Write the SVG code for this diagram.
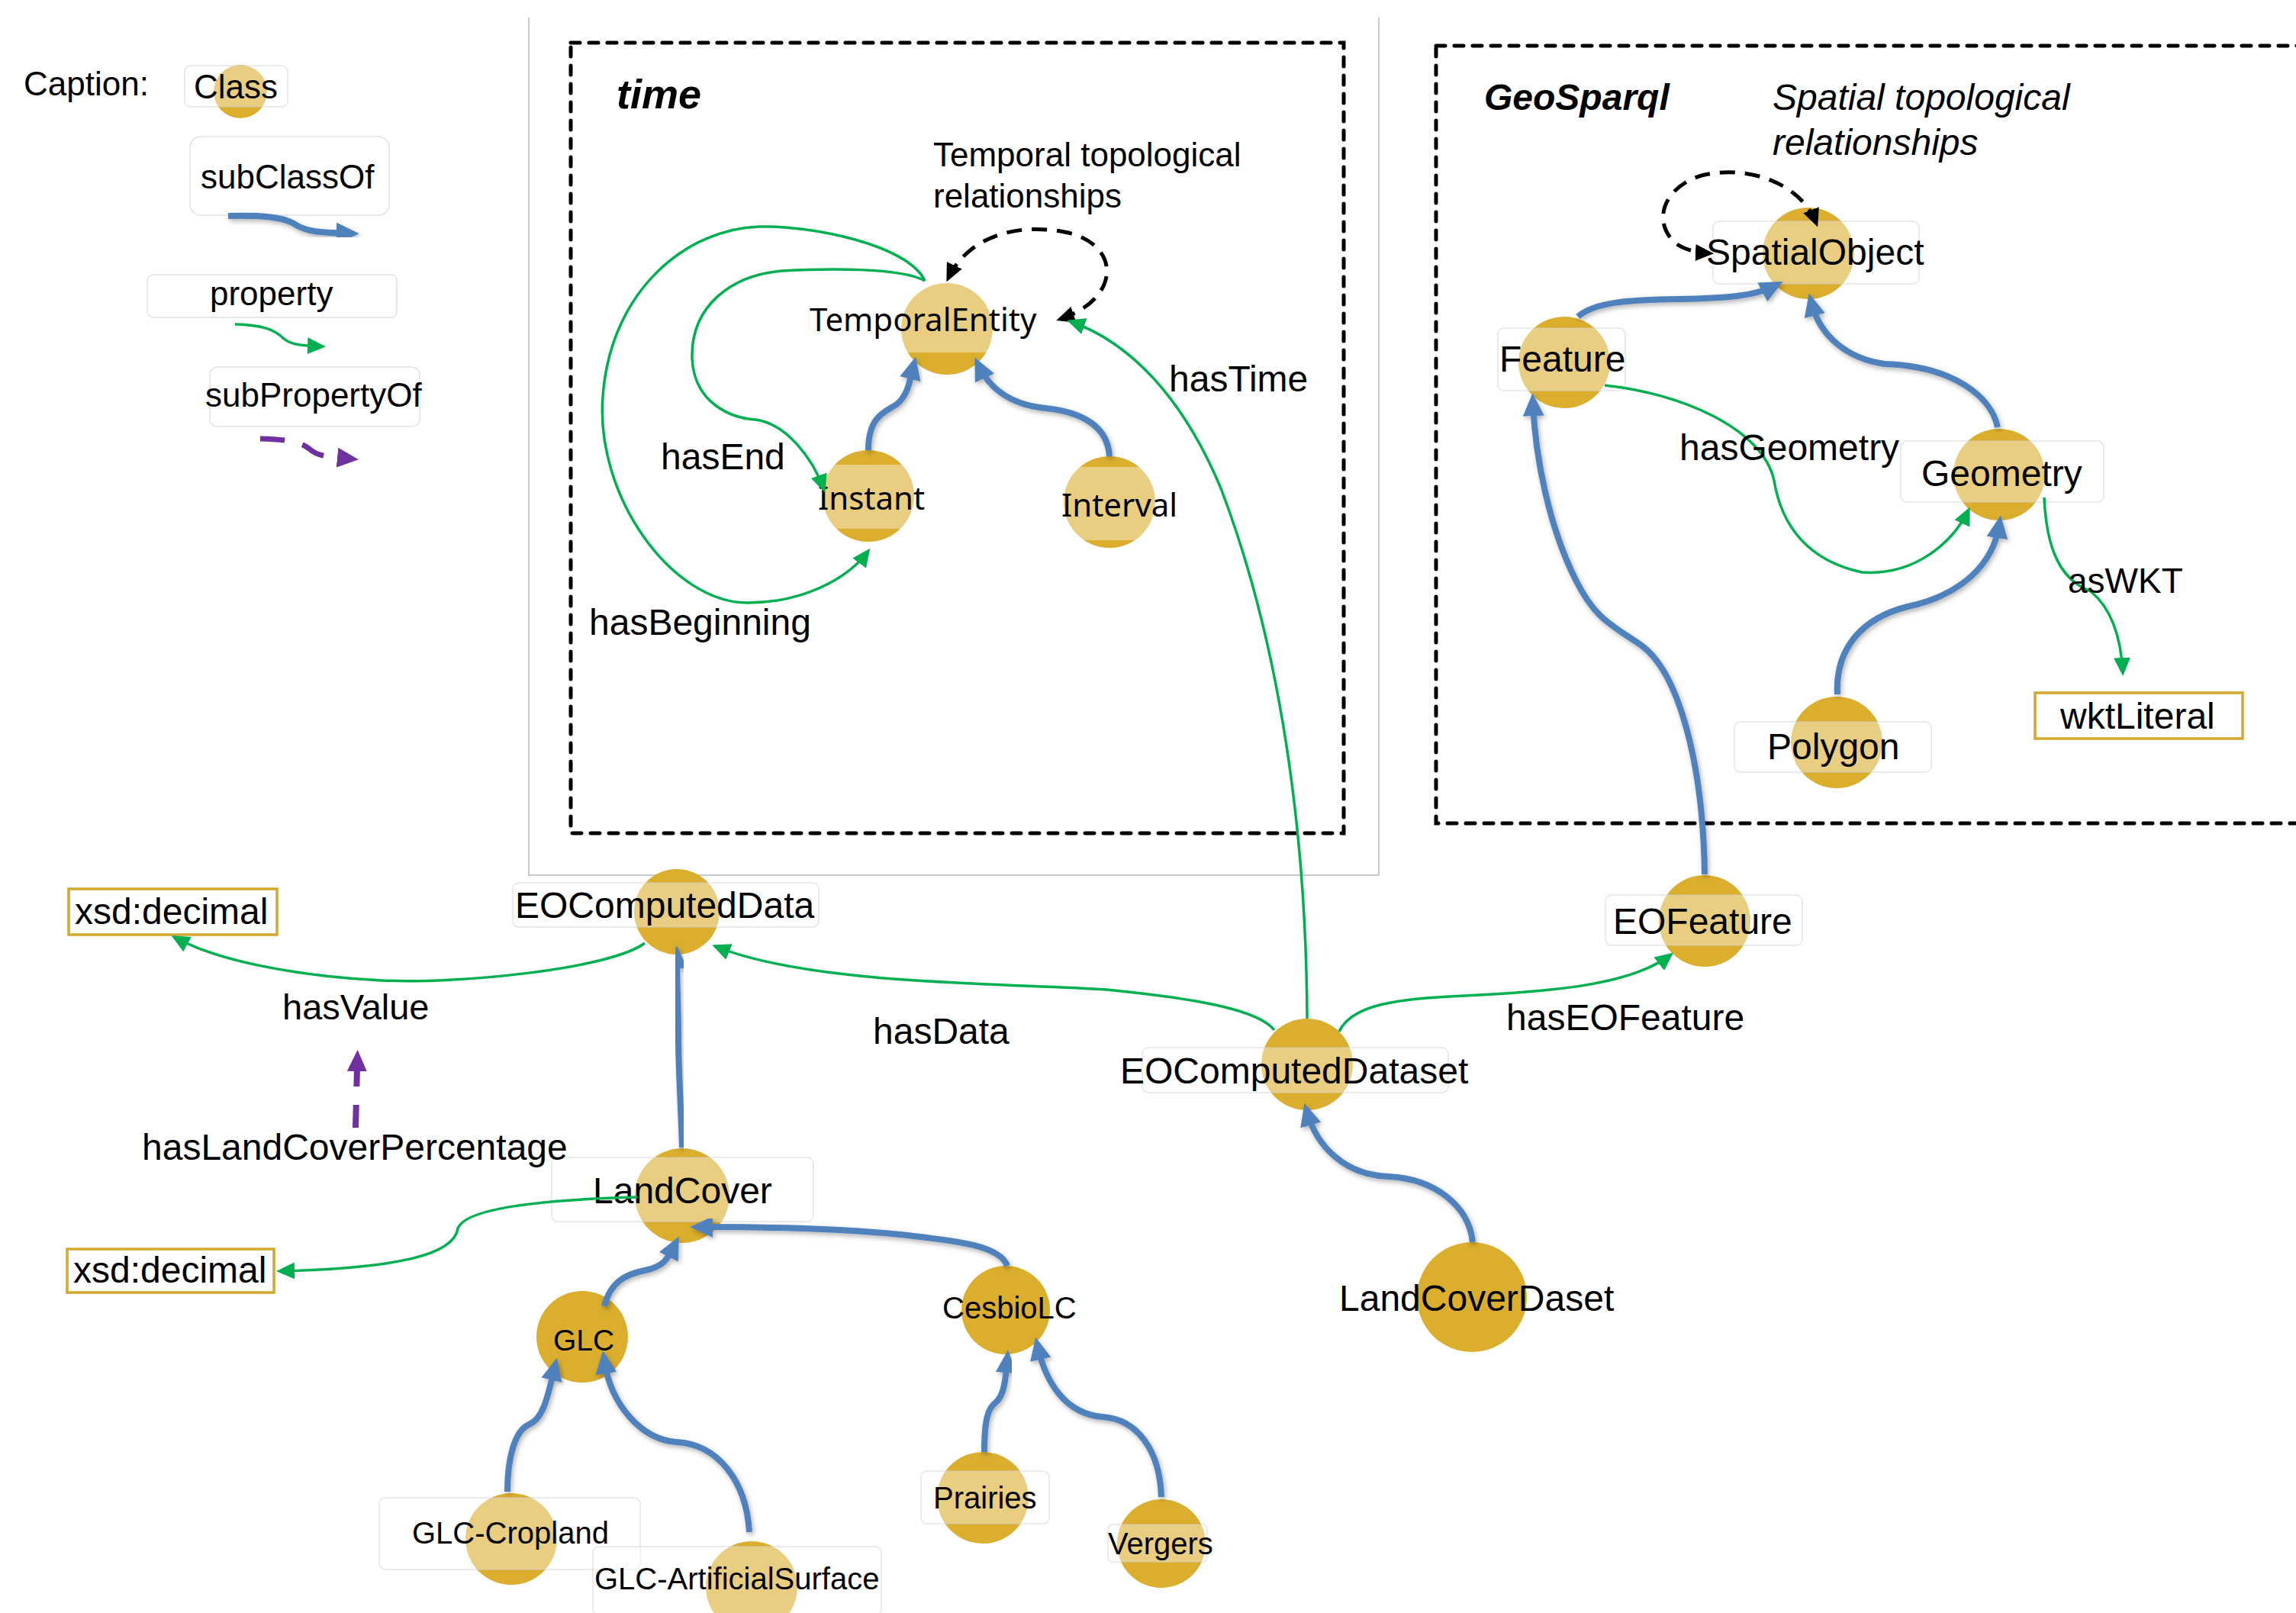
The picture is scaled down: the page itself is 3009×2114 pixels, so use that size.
<svg xmlns="http://www.w3.org/2000/svg" width="3009" height="2114" viewBox="0 0 3009 2114">
<style>
.bg{fill:#fff}
.nc{fill:#DBAE2E}
.nb{fill:#fff;fill-opacity:0.4;stroke:#d0d0d0;stroke-opacity:0.55;stroke-width:1.5}
.nbh{fill:#fff;fill-opacity:0.4;stroke:none}
.t{font-family:"Liberation Sans",Arial,sans-serif;font-size:48px;fill:#000}
.tc{font-family:"Liberation Sans",Arial,sans-serif;font-size:44px;fill:#000}
.tn{font-family:"Noto Sans","Open Sans",sans-serif;font-size:42px;fill:#000}
.ts{font-family:"Liberation Sans",Arial,sans-serif;font-size:40px;fill:#000}
.sub{fill:none;stroke:#4F81BD;stroke-width:8;marker-end:url(#mb);filter:url(#sh)}
.prop{fill:none;stroke:#00B050;stroke-width:3.5;marker-end:url(#mg)}
.loop{fill:none;stroke:#000;stroke-width:5;stroke-dasharray:20 13;marker-start:url(#mk);marker-end:url(#mk)}
.box{fill:none;stroke:#000;stroke-width:5;stroke-dasharray:12 12;stroke-linecap:round}
.lit{fill:#fff;stroke:#D4A82E;stroke-width:3.5}
.cap{fill:#fff;stroke:#e2e2e2;stroke-width:1.5}
</style>
<defs>
<marker id="mb" markerUnits="userSpaceOnUse" markerWidth="30" markerHeight="28" viewBox="0 0 28 26" refX="16" refY="13" orient="auto-start-reverse"><path d="M0,0 L28,13 L0,26 z" fill="#4F81BD"/></marker>
<marker id="mg" markerUnits="userSpaceOnUse" markerWidth="24" markerHeight="22" viewBox="0 0 24 22" refX="20" refY="11" orient="auto-start-reverse"><path d="M0,0 L24,11 L0,22 z" fill="#00B050"/></marker>
<marker id="mk" markerUnits="userSpaceOnUse" markerWidth="24" markerHeight="22" viewBox="0 0 24 22" refX="18" refY="11" orient="auto-start-reverse"><path d="M0,0 L24,11 L0,22 z" fill="#000"/></marker>
<marker id="mp" markerUnits="userSpaceOnUse" markerWidth="28" markerHeight="26" viewBox="0 0 28 26" refX="4" refY="13" orient="auto-start-reverse"><path d="M0,0 L28,13 L0,26 z" fill="#7030A0"/></marker>
<filter id="sh" x="-20%" y="-20%" width="140%" height="140%"><feDropShadow dx="2" dy="3" stdDeviation="3" flood-color="#000" flood-opacity="0.3"/></filter>
</defs>
<rect class="bg" x="0" y="0" width="3009" height="2114"/>

<!-- frames -->
<g id="frames">
<path d="M693,23 L693,1147 L1807,1147 L1807,23" fill="none" stroke="#c8c8c8" stroke-width="2"/>
<rect class="box" x="748" y="56" width="1013" height="1036"/>
<rect class="box" x="1882" y="60" width="1160" height="1019"/>
<text x="808" y="142" style="font-family:'Liberation Sans',Arial,sans-serif;font-size:54px;font-weight:bold;font-style:italic">time</text>
<text class="tc" x="1223" y="218">Temporal topological</text>
<text class="tc" x="1223" y="272">relationships</text>
<text x="1945" y="144" style="font-family:'Liberation Sans',Arial,sans-serif;font-size:48px;font-weight:bold;font-style:italic">GeoSparql</text>
<text x="2323" y="144" style="font-family:'Liberation Sans',Arial,sans-serif;font-size:48px;font-style:italic">Spatial topological</text>
<text x="2323" y="203" style="font-family:'Liberation Sans',Arial,sans-serif;font-size:48px;font-style:italic">relationships</text>
</g>

<!-- caption -->
<g id="caption">
<text class="tc" x="31" y="125">Caption:</text>
<g id="cap-class">
<circle class="nc" cx="315" cy="120" r="35"/>
<rect class="nb" x="242" y="86" width="135" height="54" rx="8"/>
<text class="tc" x="254" y="129">Class</text>
</g>
<rect class="cap" x="249" y="179" width="261" height="103" rx="14"/>
<text class="tc" x="263" y="247">subClassOf</text>
<path class="sub" d="M299,283 C340,282 370,284 385,293 C398,302 412,305 458,306"/>
<rect class="cap" x="193" y="360" width="327" height="56" rx="8"/>
<text class="tc" x="275" y="400">property</text>
<path class="prop" d="M308,425 C345,426 360,432 372,444 C382,452 395,453 423,454"/>
<rect class="cap" x="275" y="481" width="275" height="78" rx="10"/>
<text class="tc" x="269" y="533">subPropertyOf</text>
<path d="M341,575 C380,576 395,580 405,588 C415,597 425,598 446,600" fill="none" stroke="#7030A0" stroke-width="7" stroke-dasharray="32 24" marker-end="url(#mp)"/>
</g>

<!-- nodes -->
<g id="TemporalEntity"><circle class="nc" cx="1241" cy="431" r="60"/><rect class="nbh" x="1061" y="360" width="300" height="102"/><text class="tn" x="1061" y="434">TemporalEntity</text></g>
<g id="Instant"><circle class="nc" cx="1138" cy="650" r="60"/><rect class="nbh" x="1070" y="609" width="136" height="84"/><text class="tn" x="1072" y="668">Instant</text></g>
<g id="Interval"><circle class="nc" cx="1454" cy="658" r="60"/><rect class="nbh" x="1389" y="612" width="153" height="96"/><text class="tn" x="1391" y="677">Interval</text></g>

<g id="SpatialObject"><circle class="nc" cx="2370" cy="332" r="60"/><rect class="nb" x="2245" y="290" width="270" height="82" rx="8"/><text class="t" x="2236" y="347">SpatialObject</text></g>
<g id="Feature"><circle class="nc" cx="2050" cy="475" r="60"/><rect class="nb" x="1963" y="430" width="167" height="82" rx="8"/><text class="t" x="1965" y="487">Feature</text></g>
<g id="Geometry"><circle class="nc" cx="2620" cy="622" r="60"/><rect class="nb" x="2491" y="578" width="266" height="80" rx="8"/><text class="t" x="2518" y="637">Geometry</text></g>
<g id="Polygon"><circle class="nc" cx="2407" cy="973" r="60"/><rect class="nb" x="2273" y="946" width="258" height="66" rx="8"/><text class="t" x="2316" y="995">Polygon</text></g>
<g id="wktLiteral"><rect class="lit" x="2667" y="908" width="272" height="60"/><text class="t" x="2700" y="955">wktLiteral</text></g>

<g id="xsd1"><rect class="lit" x="90" y="1165" width="273" height="60"/><text class="t" x="98" y="1211">xsd:decimal</text></g>
<g id="xsd2"><rect class="lit" x="88" y="1637" width="271" height="57"/><text class="t" x="96" y="1681">xsd:decimal</text></g>

<g id="EOComputedData"><circle class="nc" cx="887" cy="1195" r="56"/><rect class="nb" x="672" y="1157" width="401" height="58" rx="8"/><text class="t" x="675" y="1203">EOComputedData</text></g>
<g id="LandCover"><circle class="nc" cx="894" cy="1567" r="62"/><rect class="nb" x="723" y="1517" width="343" height="84" rx="8"/><text class="t" x="777" y="1577">LandCover</text></g>
<g id="GLC"><circle class="nc" cx="763" cy="1752" r="60"/><text class="ts" x="725" y="1770" style="font-size:39px">GLC</text></g>
<g id="CesbioLC"><circle class="nc" cx="1318" cy="1717" r="58"/><text class="ts" x="1235" y="1728">CesbioLC</text></g>
<g id="GLC-Cropland"><circle class="nc" cx="670" cy="2017" r="60"/><rect class="nb" x="497" y="1963" width="342" height="94" rx="8"/><text class="ts" x="540" y="2023">GLC-Cropland</text></g>
<g id="GLC-ArtificialSurface"><circle class="nc" cx="985" cy="2080" r="60"/><rect class="nb" x="777" y="2027" width="378" height="90" rx="8"/><text class="ts" x="779" y="2083">GLC-ArtificialSurface</text></g>
<g id="Prairies"><circle class="nc" cx="1288" cy="1963" r="60"/><rect class="nb" x="1207" y="1928" width="168" height="69" rx="8"/><text class="ts" x="1223" y="1977">Prairies</text></g>
<g id="Vergers"><circle class="nc" cx="1522" cy="2023" r="58"/><rect class="nb" x="1452" y="1998" width="130" height="49" rx="6"/><text class="ts" x="1452" y="2037">Vergers</text></g>
<g id="EOComputedDataset"><circle class="nc" cx="1713" cy="1395" r="60"/><rect class="nb" x="1497" y="1373" width="401" height="59" rx="8"/><text class="t" x="1468" y="1420">EOComputedDataset</text></g>
<g id="LandCoverDaset"><circle class="nc" cx="1929" cy="1700" r="72"/><text class="t" x="1755" y="1718">LandCoverDaset</text></g>
<g id="EOFeature"><circle class="nc" cx="2234" cy="1207" r="60"/><rect class="nb" x="2104" y="1173" width="258" height="66" rx="8"/><text class="t" x="2114" y="1224">EOFeature</text></g>

<!-- connectors -->
<g id="connectors">
<!-- time -->
<path class="sub" d="M1138,590 C1138,545 1160,540 1175,530 C1190,518 1192,500 1197,480"/>
<path class="sub" d="M1454,598 C1452,560 1420,540 1370,535 C1320,530 1295,505 1283,480"/>
<path class="prop" d="M1212,368 C1180,350 1080,352 1025,355 C960,360 905,400 907,470 C910,530 960,548 990,550 C1030,555 1065,600 1080,642"/>
<path class="prop" d="M1212,368 C1190,320 1060,295 995,297 C900,300 800,380 790,520 C780,650 880,790 980,790 C1050,790 1110,760 1138,722"/>
<path class="loop" d="M1390,418 C1468,392 1470,322 1400,305 C1330,290 1268,312 1243,364"/>
<path class="prop" d="M1713,1335 C1712,1100 1680,850 1600,640 C1550,520 1480,448 1402,421"/>
<!-- geo -->
<path class="loop" d="M2380,292 C2360,240 2290,215 2230,230 C2180,245 2165,290 2195,318 C2205,326 2220,331 2240,332"/>
<path class="sub" d="M2068,415 C2090,395 2140,393 2200,392 C2260,391 2300,388 2325,375"/>
<path class="sub" d="M2618,560 C2610,520 2560,480 2470,477 C2420,470 2385,440 2374,397"/>
<path class="sub" d="M2408,910 C2405,850 2440,810 2500,795 C2570,780 2612,740 2620,688"/>
<path class="prop" d="M2103,505 C2200,515 2310,560 2325,630 C2335,690 2370,735 2440,750 C2510,755 2560,710 2580,668"/>
<path class="prop" d="M2679,652 C2682,720 2700,760 2740,775 C2770,800 2780,840 2782,882"/>
<path class="sub" d="M2234,1146 C2232,1000 2200,880 2150,845 C2110,818 2090,810 2065,760 C2030,690 2012,600 2009,528"/>
<!-- main -->
<path class="prop" d="M1755,1352 C1770,1320 1820,1310 1900,1306 C2040,1300 2140,1290 2190,1251"/>
<path class="prop" d="M1670,1350 C1650,1325 1580,1310 1450,1297 C1300,1288 1060,1290 937,1240"/>
<path class="prop" d="M845,1236 C800,1270 600,1290 500,1285 C400,1280 290,1262 228,1228"/>
<path class="prop" d="M835,1569 C720,1572 610,1582 600,1610 C595,1645 520,1662 366,1666"/>
<path d="M466,1478 L468,1400" fill="none" stroke="#7030A0" stroke-width="8" stroke-dasharray="30 24" marker-end="url(#mp)"/>
<path class="sub" d="M894,1504 C892,1440 889,1400 889,1360 C889,1320 887,1290 887,1252"/>
<path class="sub" d="M792,1712 C800,1680 820,1670 845,1665 C870,1660 875,1650 884,1632"/>
<path class="sub" d="M1320,1659 C1310,1630 1240,1625 1180,1618 C1100,1610 1000,1608 917,1608"/>
<path class="sub" d="M665,1955 C665,1910 675,1875 693,1867 C712,1860 718,1830 727,1792"/>
<path class="sub" d="M982,2008 C978,1940 940,1893 887,1890 C840,1887 800,1840 792,1783"/>
<path class="sub" d="M1290,1903 C1290,1860 1295,1845 1305,1838 C1315,1830 1318,1810 1320,1782"/>
<path class="sub" d="M1522,1962 C1520,1900 1490,1860 1445,1857 C1395,1853 1370,1810 1360,1765"/>
<path class="sub" d="M1930,1628 C1925,1580 1880,1545 1820,1542 C1760,1540 1725,1500 1713,1458"/>
</g>

<!-- edge labels -->
<g id="edge-labels">
<text class="t" x="866" y="615">hasEnd</text>
<text class="t" x="772" y="832">hasBeginning</text>
<text class="t" x="1532" y="513">hasTime</text>
<text class="t" x="2201" y="603">hasGeometry</text>
<text class="t" x="2710" y="777" style="font-size:46px">asWKT</text>
<text class="t" x="370" y="1336" style="font-size:47px">hasValue</text>
<text class="t" x="186" y="1520">hasLandCoverPercentage</text>
<text class="t" x="1144" y="1368">hasData</text>
<text class="t" x="1974" y="1350">hasEOFeature</text>
</g>
</svg>
